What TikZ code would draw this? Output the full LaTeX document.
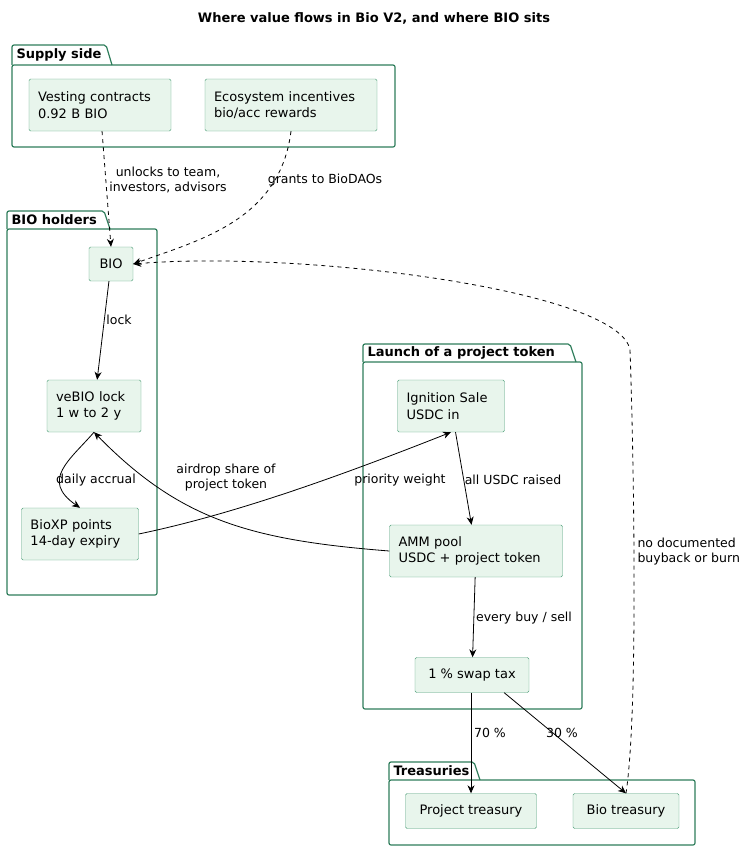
\documentclass[tikz,border=0pt]{standalone}
\usepackage{fontspec}
\setmainfont{DejaVu Sans}
\usetikzlibrary{arrows.meta}
\definecolor{nfill}{HTML}{E8F5EC}
\definecolor{nbord}{HTML}{4E9E78}
\definecolor{pbord}{HTML}{2E7D5B}
\begin{document}
\begin{tikzpicture}[x=1pt,y=-1pt,
  box/.style={draw=nbord,fill=nfill,rounded corners=1.5pt,align=left,inner sep=0pt,font=\fontsize{13}{16.5}\selectfont},
  pkg/.style={draw=pbord,line width=1.2pt,rounded corners=2pt},
  ptab/.style={font=\bfseries\fontsize{13}{15}\selectfont,anchor=west},
  arr/.style={-{Stealth[length=8pt,width=7pt]},line width=0.8pt},
  dsh/.style={arr,dash pattern=on 4pt off 4pt},
  lbl/.style={font=\fontsize{12.5}{15}\selectfont,align=center}]
\useasboundingbox (0,0) rectangle (748,851);
\node[font=\bfseries\fontsize{13}{15}\selectfont] (title) at (374,18) {Where value flows in Bio V2, and where BIO sits};
% packages
\draw[pkg] (12,65) rectangle (395,147);
\draw[pkg] (12,65) -- (12,45) -- (106,45) -- (112,65);
\node[ptab] (p1) at (13,55) {Supply side};
\draw[pkg] (7,229) rectangle (157,595);
\draw[pkg] (7,229) -- (7,211) -- (104,211) -- (110,229);
\node[ptab] (p2) at (8,220) {BIO holders};
\draw[pkg] (363,362) rectangle (582,709);
\draw[pkg] (363,362) -- (363,344) -- (570,344) -- (576,362);
\node[ptab] (p3) at (364,353) {Launch of a project token};
\draw[pkg] (389,780) rectangle (695,845);
\draw[pkg] (389,780) -- (389,762) -- (474,762) -- (480,780);
\node[ptab] (p4) at (390,771) {Treasuries};
% nodes
\node[box,minimum width=142pt,minimum height=52pt,text width=124pt] (vest) at (100,105) {Vesting contracts\\0.92 B BIO};
\node[box,minimum width=172pt,minimum height=52pt,text width=154pt] (eco) at (291,105) {Ecosystem incentives\\bio/acc rewards};
\node[box,minimum width=44pt,minimum height=34pt,align=center] (bio) at (111,264) {BIO};
\node[box,minimum width=94pt,minimum height=52pt,text width=76pt] (ve) at (94,406) {veBIO lock\\1 w to 2 y};
\node[box,minimum width=117pt,minimum height=52pt,text width=99pt] (xp) at (80,534) {BioXP points\\14-day expiry};
\node[box,minimum width=107pt,minimum height=52pt,text width=89pt] (ign) at (451,406) {Ignition Sale\\USDC in};
\node[box,minimum width=173pt,minimum height=52pt,text width=155pt] (amm) at (476,551) {AMM pool\\USDC + project token};
\node[box,minimum width=114pt,minimum height=35pt,align=center] (tax) at (472,675) {1 \% swap tax};
\node[box,minimum width=131pt,minimum height=35pt,align=center] (pt) at (471,811) {Project treasury};
\node[box,minimum width=106pt,minimum height=35pt,align=center] (bt) at (626,811) {Bio treasury};
% edges
\draw[dsh] (vest) -- (bio.north);
\node[lbl] (l1) at (168,180) {unlocks to team,\\investors, advisors};
\draw[dsh] (eco.south) .. controls (280,220) and (200,240) .. (bio.east);
\node[lbl] (l2) at (325,180) {grants to BioDAOs};
\draw[arr] (bio) -- (ve);
\node[lbl] (l3) at (119,320) {lock};
\draw[arr] (ve.south) .. controls (70,460) and (40,480) .. (xp.north);
\node[lbl] (l4) at (96,480) {daily accrual};
\draw[arr] (xp.east) .. controls (230,515) and (330,480) .. (ign.south);
\node[lbl] (l5) at (400,480) {priority weight};
\draw[arr] (amm.west) .. controls (250,540) and (180,520) .. (ve.south);
\node[lbl] (l6) at (226,478) {airdrop share of\\project token};
\draw[arr] (ign) -- (amm);
\node[lbl] (l7) at (513,480) {all USDC raised};
\draw[arr] (amm) -- (tax);
\node[lbl] (l8) at (524,618) {every buy / sell};
\draw[arr] (tax.south -| pt.north) -- (pt.north);
\node[lbl] (l9) at (490,733) {70 \%};
\draw[arr] (tax.south east) ++(-25,0) -- (bt.north);
\node[lbl] (l10) at (562,733) {30 \%};
\draw[dsh] (bt.north) .. controls (640,700) and (632,400) .. (630,350) .. controls (620,290) and (300,250) .. (bio.east);
\node[lbl,align=left,anchor=west] (l11) at (634,552) {no documented\\buyback or burn};
\end{tikzpicture}
\end{document}
